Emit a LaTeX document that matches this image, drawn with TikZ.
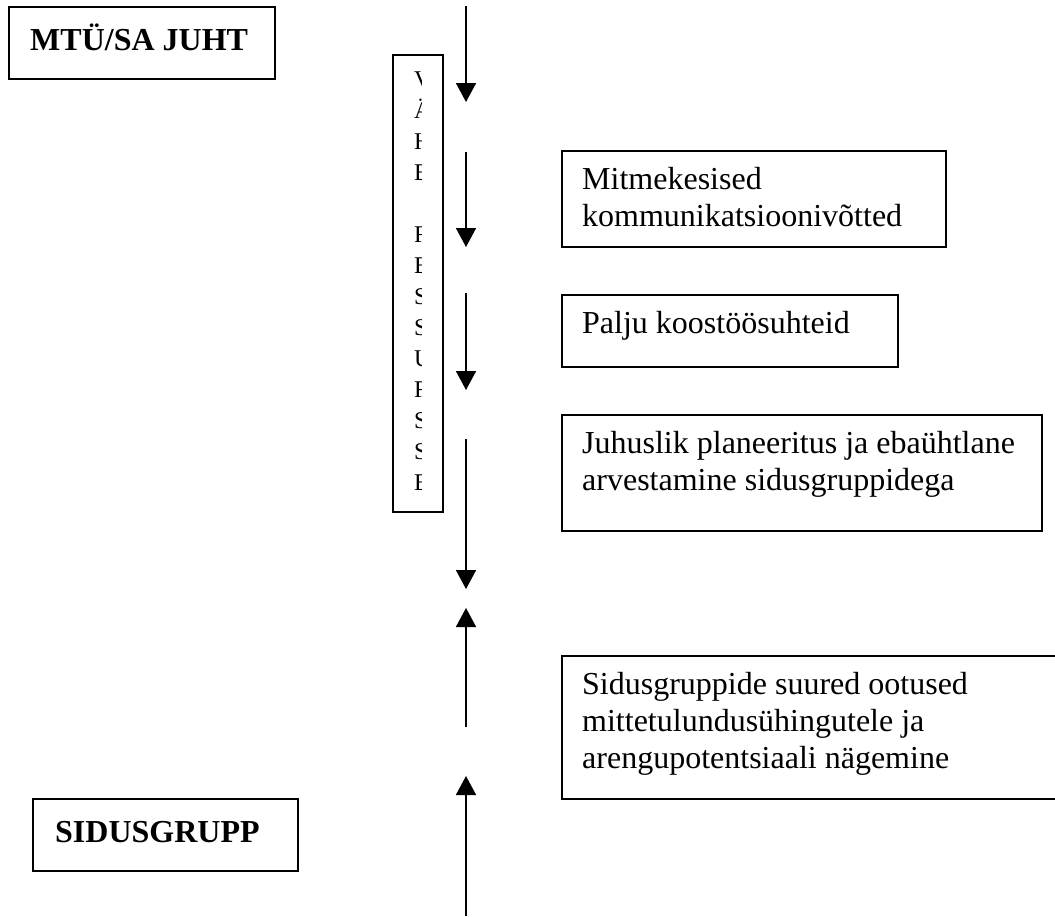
\documentclass[tikz,border=0pt]{standalone}
\usepackage{fontspec}
\setmainfont{Liberation Serif}
\usetikzlibrary{arrows.meta}
\newcommand\mlines[1]{\begin{tabular}[t]{@{}l@{}}#1\end{tabular}}
\begin{document}
\begin{tikzpicture}[x=1pt,y=-1pt,
  boxline/.style={draw=black,line width=1.8pt},
  heading/.style={anchor=base west,inner sep=0pt,font=\fontsize{32}{37}\selectfont\bfseries},
  bodytext/.style={anchor=base west,inner sep=0pt,font=\fontsize{32}{37}\selectfont},
  flow/.style={line width=1.6pt,-{Triangle[width=20pt,length=19pt]}}]
\useasboundingbox[fill=white] (0,0) rectangle (1055,916);
% heading boxes
\draw[boxline] (9,7) rectangle (275,79);
\node[heading] (juht) at (30,50) {MTÜ/SA JUHT};
\draw[boxline] (33,799) rectangle (298,871);
\node[heading] (sidusgrupp) at (55,842) {SIDUSGRUPP};
% vertical clipped text box
\draw[boxline] (393,55) rectangle (443,512);
\begin{scope}
  \clip (393,55) rectangle (421.5,512);
  \node[anchor=base west,inner sep=0pt,font=\fontsize{24}{31}\selectfont] (vahe) at (414,87)
    {\mlines{V\\Ä\\H\\E\\{}\\R\\E\\S\\S\\U\\R\\S\\S\\E}};
\end{scope}
% text boxes
\draw[boxline] (562,151) rectangle (946,247);
\node[bodytext] (mit) at (582,189) {\mlines{Mitmekesised\\kommunikatsioonivõtted}};
\draw[boxline] (562,295) rectangle (898,367);
\node[bodytext] (palju) at (582,333) {Palju koostöösuhteid};
\draw[boxline] (562,415) rectangle (1042,531);
\node[bodytext] (juhus) at (582,453) {\mlines{Juhuslik planeeritus ja ebaühtlane\\arvestamine sidusgruppidega}};
\draw[boxline] (1056,656) -- (562,656) -- (562,799) -- (1056,799);
\node[bodytext] (ootus) at (582,694) {\mlines{Sidusgruppide suured ootused\\mittetulundusühingutele ja\\arengupotentsiaali nägemine}};
% arrows
\coordinate (a1s) at (466,6);   \coordinate (a1e) at (466,102);
\coordinate (a2s) at (466,152); \coordinate (a2e) at (466,247);
\coordinate (a3s) at (466,293); \coordinate (a3e) at (466,390);
\coordinate (a4s) at (466,439); \coordinate (a4e) at (466,589);
\coordinate (a5s) at (466,727); \coordinate (a5e) at (466,608);
\coordinate (a6s) at (466,916); \coordinate (a6e) at (466,776);
\draw[flow] (a1s) -- (a1e);
\draw[flow] (a2s) -- (a2e);
\draw[flow] (a3s) -- (a3e);
\draw[flow] (a4s) -- (a4e);
\draw[flow] (a5s) -- (a5e);
\draw[flow] (a6s) -- (a6e);
\end{tikzpicture}
\end{document}
